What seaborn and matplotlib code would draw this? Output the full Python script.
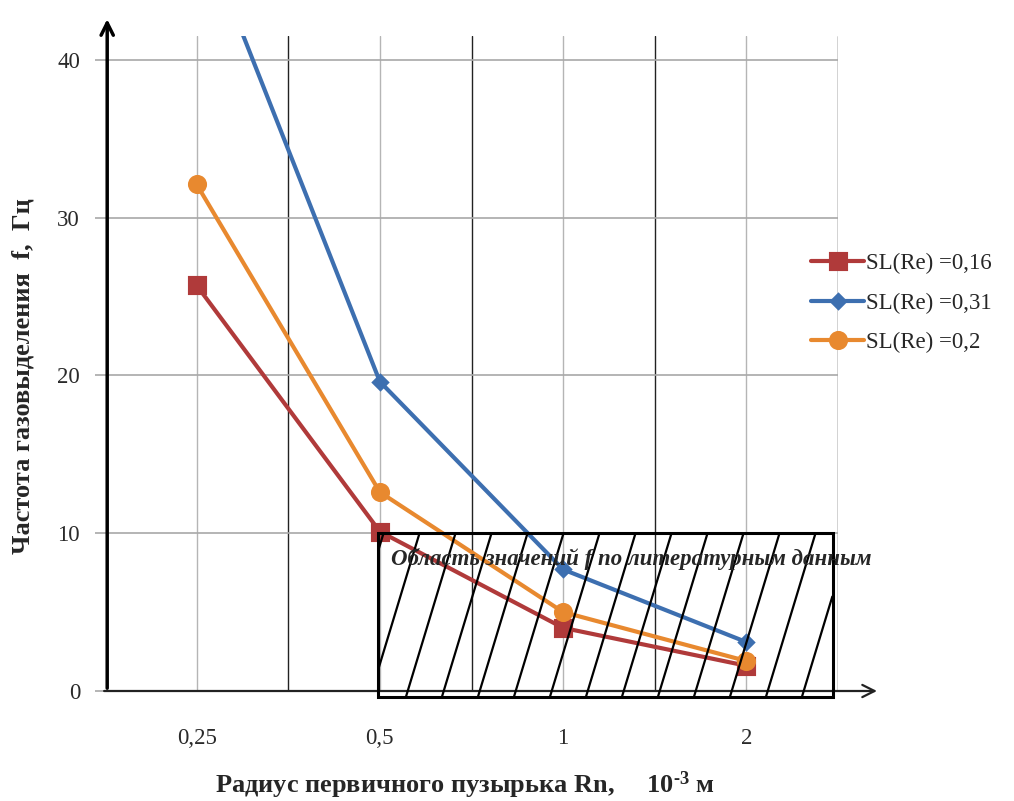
import numpy as np
import pandas as pd
import matplotlib
matplotlib.use("Agg")
import matplotlib.pyplot as plt
import seaborn as sns
from matplotlib.patches import Rectangle
from matplotlib.collections import LineCollection

# ---- data ----
categories = ["0,25", "0,5", "1", "2"]
sl_016 = [25.7, 10.1, 4.0, 1.6]
sl_031 = [49.0, 19.6, 7.7, 3.1]
sl_02 = [32.1, 12.6, 5.0, 1.9]
series_labels = ["SL(Re) =0,16", "SL(Re) =0,31", "SL(Re) =0,2"]
yticks = [0, 10, 20, 30, 40]
region_text = "Область значений f по литературным данным"
xlabel = r"Радиус первичного пузырька Rn,     10$^{\text{-3}}$ м"
ylabel = "Частота газовыделения  f,  Гц"

sns.set_theme(style="white")
plt.rcParams["font.family"] = ["Liberation Serif", "DejaVu Serif"]
plt.rcParams["mathtext.fontset"] = "custom"
plt.rcParams["mathtext.rm"] = "Liberation Serif:bold"
plt.rcParams["mathtext.default"] = "rm"

W, H = 1014, 801
fig = plt.figure(figsize=(W / 100, H / 100), dpi=100)
L, R, T, B = 105, 838, 36, 691
ax = fig.add_axes([L / W, 1 - B / H, (R - L) / W, (B - T) / H])

colors = ["#B03A3A", "#3D6FB0", "#E8892F"]
markers = ["s", "D", "o"]
msizes = [11.5, 7.5, 11.5]
for vals, lab, c, m, ms in zip([sl_016, sl_031, sl_02], series_labels, colors, markers, msizes):
    sns.pointplot(x=categories, y=vals, order=categories, color=c, marker=m,
                  markersize=ms, linewidth=3, label=lab, ax=ax, errorbar=None)

ymax = 41.5
ax.set_xlim(-0.5, 3.5)
ax.set_ylim(0, ymax)

# grid: grey at category centres, dark at boundaries
for i in range(len(categories)):
    ax.axvline(i, color="#b5b5b5", lw=1, zorder=0)
for b in np.arange(0.5, len(categories) + 0.5, 1.0):
    ax.axvline(b, color="#222222", lw=1, zorder=0)
for yt in yticks[1:]:
    ax.axhline(yt, color="#a8a8a8", lw=1.2, zorder=0)

for s in ["top", "right", "bottom", "left"]:
    ax.spines[s].set_visible(False)

ax.set_yticks(yticks)
ax.set_yticklabels([str(v) for v in yticks], fontsize=16.5, color="#2a2a2a")
ax.set_xticks(range(len(categories)))
ax.set_xticklabels(categories, fontsize=16.5, color="#2a2a2a")
ax.tick_params(axis="y", length=7, width=1.2, color="#a8a8a8", pad=11, left=True)
ax.tick_params(axis="x", length=0, pad=27)
ax.set_xlabel("")
ax.set_ylabel("")

# axes arrows
ax.annotate("", xy=(0.003, 1.03), xytext=(0.003, 0.0), xycoords="axes fraction",
            arrowprops=dict(arrowstyle="->", lw=2.5, color="black", mutation_scale=22),
            annotation_clip=False)
ax.annotate("", xy=(1.057, 0.0), xytext=(-0.005, 0.0), xycoords="axes fraction",
            arrowprops=dict(arrowstyle="->", lw=1.6, color="#222222", mutation_scale=22),
            annotation_clip=False)

# hatched literature region
x0, x1, y0, y1 = 0.99, 3.47, -0.38, 10.0
rect = Rectangle((x0, y0), x1 - x0, y1 - y0, fill=False, ec="black", lw=2.2,
                 clip_on=False, zorder=5)
ax.add_patch(rect)
px_x = (R - L) / 4.0
px_y = (B - T) / ymax
slope_px = 3.3
spacing = 36 / px_x
dx_line = (y1 - y0) * px_y / slope_px / px_x
segs = []
xb = x0 - dx_line + 0.03
while xb < x1:
    t0 = max(0.0, (x0 - xb) / dx_line)
    t1 = min(1.0, (x1 - xb) / dx_line)
    if t1 > t0:
        segs.append([(xb + t0 * dx_line, y0 + t0 * (y1 - y0)),
                     (xb + t1 * dx_line, y0 + t1 * (y1 - y0))])
    xb += spacing
lc = LineCollection(segs, colors="black", linewidths=1.6, zorder=4, clip_on=False)
ax.add_collection(lc)
ax.text(1.06, 8.35, region_text, fontsize=16.5, fontweight="bold", fontstyle="italic",
        va="center", ha="left", zorder=6, clip_on=False)

# labels
fig.text(23 / W, 1 - 376 / H, ylabel, rotation=90, fontsize=19, fontweight="bold",
         ha="center", va="center")
fig.text(465 / W, 1 - 785 / H, xlabel, fontsize=19, fontweight="bold",
         ha="center", va="center")

leg = ax.legend(loc="center left", bbox_to_anchor=(0.951, 0.592), frameon=False,
                fontsize=16.5, handlelength=2.3, labelspacing=0.8, handletextpad=0.1,
                borderaxespad=0)

fig.savefig("out.png", dpi=100)
